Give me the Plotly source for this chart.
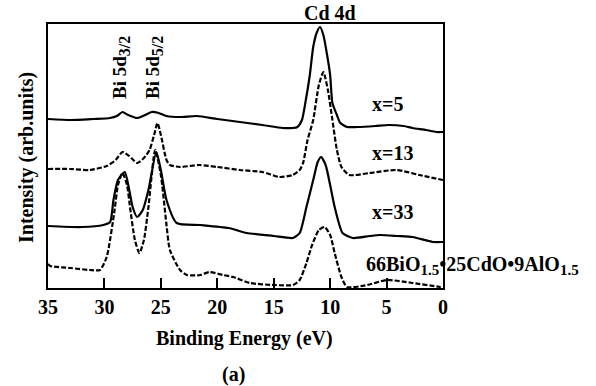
import plotly.graph_objects as go

# Binding energy (eV) and intensity (arbitrary units, offset stacked)
e_x5 = [35, 33, 31, 29.5, 28.9, 28.4, 27.9, 27.1, 26.4, 25.8, 25.2, 24.5, 23.3, 21.8, 20, 18, 16, 14.2, 13.3, 12.9,
        12.5, 12.2, 11.8, 11.5, 11.2, 10.9, 10.6, 10.3, 10.0, 9.8, 9.4, 9.1, 8.5, 7.6, 6, 4.8, 3.5, 2.7, 1.5, 0.6, 0]
i_x5 = [169, 168, 169, 170, 172, 176, 173, 170, 173, 176, 175, 172, 171, 172, 169, 166, 163, 160, 160, 161,
        168, 185, 213, 241, 255, 261, 253, 235, 213, 185, 173, 165, 161, 161, 162, 163, 162, 160, 158, 156, 156]

e_x13 = [35, 33, 31.3, 29.8, 29.0, 28.4, 27.8, 27.1, 26.5, 26.0, 25.6, 25.3, 25.0, 24.5, 24.2, 23.3, 21.6, 20, 18,
         16, 14.5, 13.3, 12.7, 12.4, 12.0, 11.5, 11.0, 10.6, 10.2, 9.8, 9.4, 9.0, 8.3, 6.5, 4.1, 2.1, 0]
i_x13 = [119, 119, 118, 122, 128, 136, 132, 125, 130, 138, 153, 165, 153, 128, 123, 121, 123, 121, 118,
         116, 111, 113, 118, 125, 148, 168, 203, 216, 198, 168, 138, 121, 113, 115, 118, 113, 108]

e_x33 = [35, 32, 30.1, 29.5, 29.2, 28.8, 28.2, 27.8, 27.5, 27.1, 26.6, 26.1, 25.4, 25.0, 24.5, 23.6, 21.5, 19,
         17.4, 15, 13.3, 12.7, 12.1, 11.5, 11.1, 10.8, 10.4, 10.0, 9.6, 8.9, 8.0, 6.5, 5.6, 4, 2.7, 0.9, 0]
i_x33 = [62, 61, 63, 66, 88, 108, 116, 98, 81, 71, 78, 98, 136, 118, 88, 65, 63, 60,
         55, 52, 50, 55, 81, 108, 126, 131, 123, 103, 81, 55, 50, 52, 53, 52, 51, 46, 46]

e_ref = [35, 34.8, 33, 31.3, 30.4, 29.8, 29.1, 28.8, 28.4, 28.0, 27.7, 27.3, 26.9, 26.5, 26.1, 25.5, 25.0, 24.5,
         24.2, 23.3, 22.7, 21.5, 20.7, 19.5, 18.6, 17.1, 15, 13.3, 12.7, 12.1, 11.6, 11.0, 10.5, 10.0, 9.6, 9.0,
         8.5, 6.7, 5.0, 2.7, 0.3, 0]
i_ref = [24, 22, 20, 18, 18, 31, 78, 103, 115, 103, 78, 48, 35, 48, 81, 138, 113, 63,
         38, 18, 13, 13, 16, 13, 11, 5, 3, 3, 8, 25, 43, 58, 61, 53, 35, 11,
         1, 3, 8, 5, 1, 0]

series_names = ["x=5", "x=13", "x=33", "66BiO<sub>1.5</sub>•25CdO•9AlO<sub>1.5</sub>"]
x_ticks = [35, 30, 25, 20, 15, 10, 5, 0]

FONT = "Liberation Serif, Times New Roman, serif"
W, H = 596, 386
L, R, T, B = 48, 443, 24, 288


def px_x(px):
    return (px - L) / (R - L)


def py_y(py):
    return (B - py) / (B - T)


fig = go.Figure()
styles = [("solid", e_x5, i_x5), ("5px,2px", e_x13, i_x13), ("solid", e_x33, i_x33), ("5px,2px", e_ref, i_ref)]
for name, (dash, ex, iy) in zip(series_names, styles):
    fig.add_trace(go.Scatter(x=ex, y=iy, mode="lines", name=name,
                             line=dict(color="black", width=2.2, dash=dash, shape="spline", smoothing=0.6),
                             showlegend=False, hoverinfo="skip"))

ann = []
def text(px, py, s, size=20, angle=0, xanchor="center"):
    ann.append(dict(xref="paper", yref="paper", x=px_x(px), y=py_y(py), text=s, showarrow=False,
                    font=dict(family=FONT, size=size, color="black", weight="bold"), textangle=angle,
                    xanchor=xanchor, yanchor="middle"))

sub = lambda s, fs=15: "<sub><span style='font-size:%dpx'>%s</span></sub>" % (fs, s)
text(121, 68, "Bi 5d" + sub("3/2", 16), 19, -90)
text(154, 68, "Bi 5d" + sub("5/2", 16), 19, -90)
text(330, 13, "Cd 4d", 20)
text(387, 104, series_names[0], 20)
text(392, 153, series_names[1], 20)
text(392, 212, series_names[2], 20)
text(364, 265, "66BiO" + sub("1.5") + "•25CdO•9AlO" + sub("1.5"), 20, xanchor="left")
text(233, 374, "(a)", 20)
text(244, 338, "Binding Energy (eV)", 20)
text(26, 158, "Intensity (arb.units)", 20, -90)

fig.update_layout(
    width=W, height=H,
    margin=dict(l=L, r=W - R, t=T, b=H - B, pad=0, autoexpand=False),
    paper_bgcolor="white", plot_bgcolor="white",
    font=dict(family=FONT, size=20, color="black", weight="bold"),
    annotations=ann,
    xaxis=dict(range=[35, 0], tickvals=x_ticks, ticktext=[str(v) for v in x_ticks],
               ticks="inside", ticklen=10, tickwidth=1.8, tickcolor="black",
               showline=True, linecolor="black", linewidth=2.2, mirror=True,
               showgrid=False, zeroline=False,
               tickfont=dict(family=FONT, size=20, weight="bold")),
    yaxis=dict(range=[0, 264], showticklabels=False, ticks="",
               showline=True, linecolor="black", linewidth=2.2, mirror=True,
               showgrid=False, zeroline=False),
)

fig.write_html("out.html", config={"displayModeBar": False},
               post_script="document.body.style.margin='0';document.body.style.padding='0';")
